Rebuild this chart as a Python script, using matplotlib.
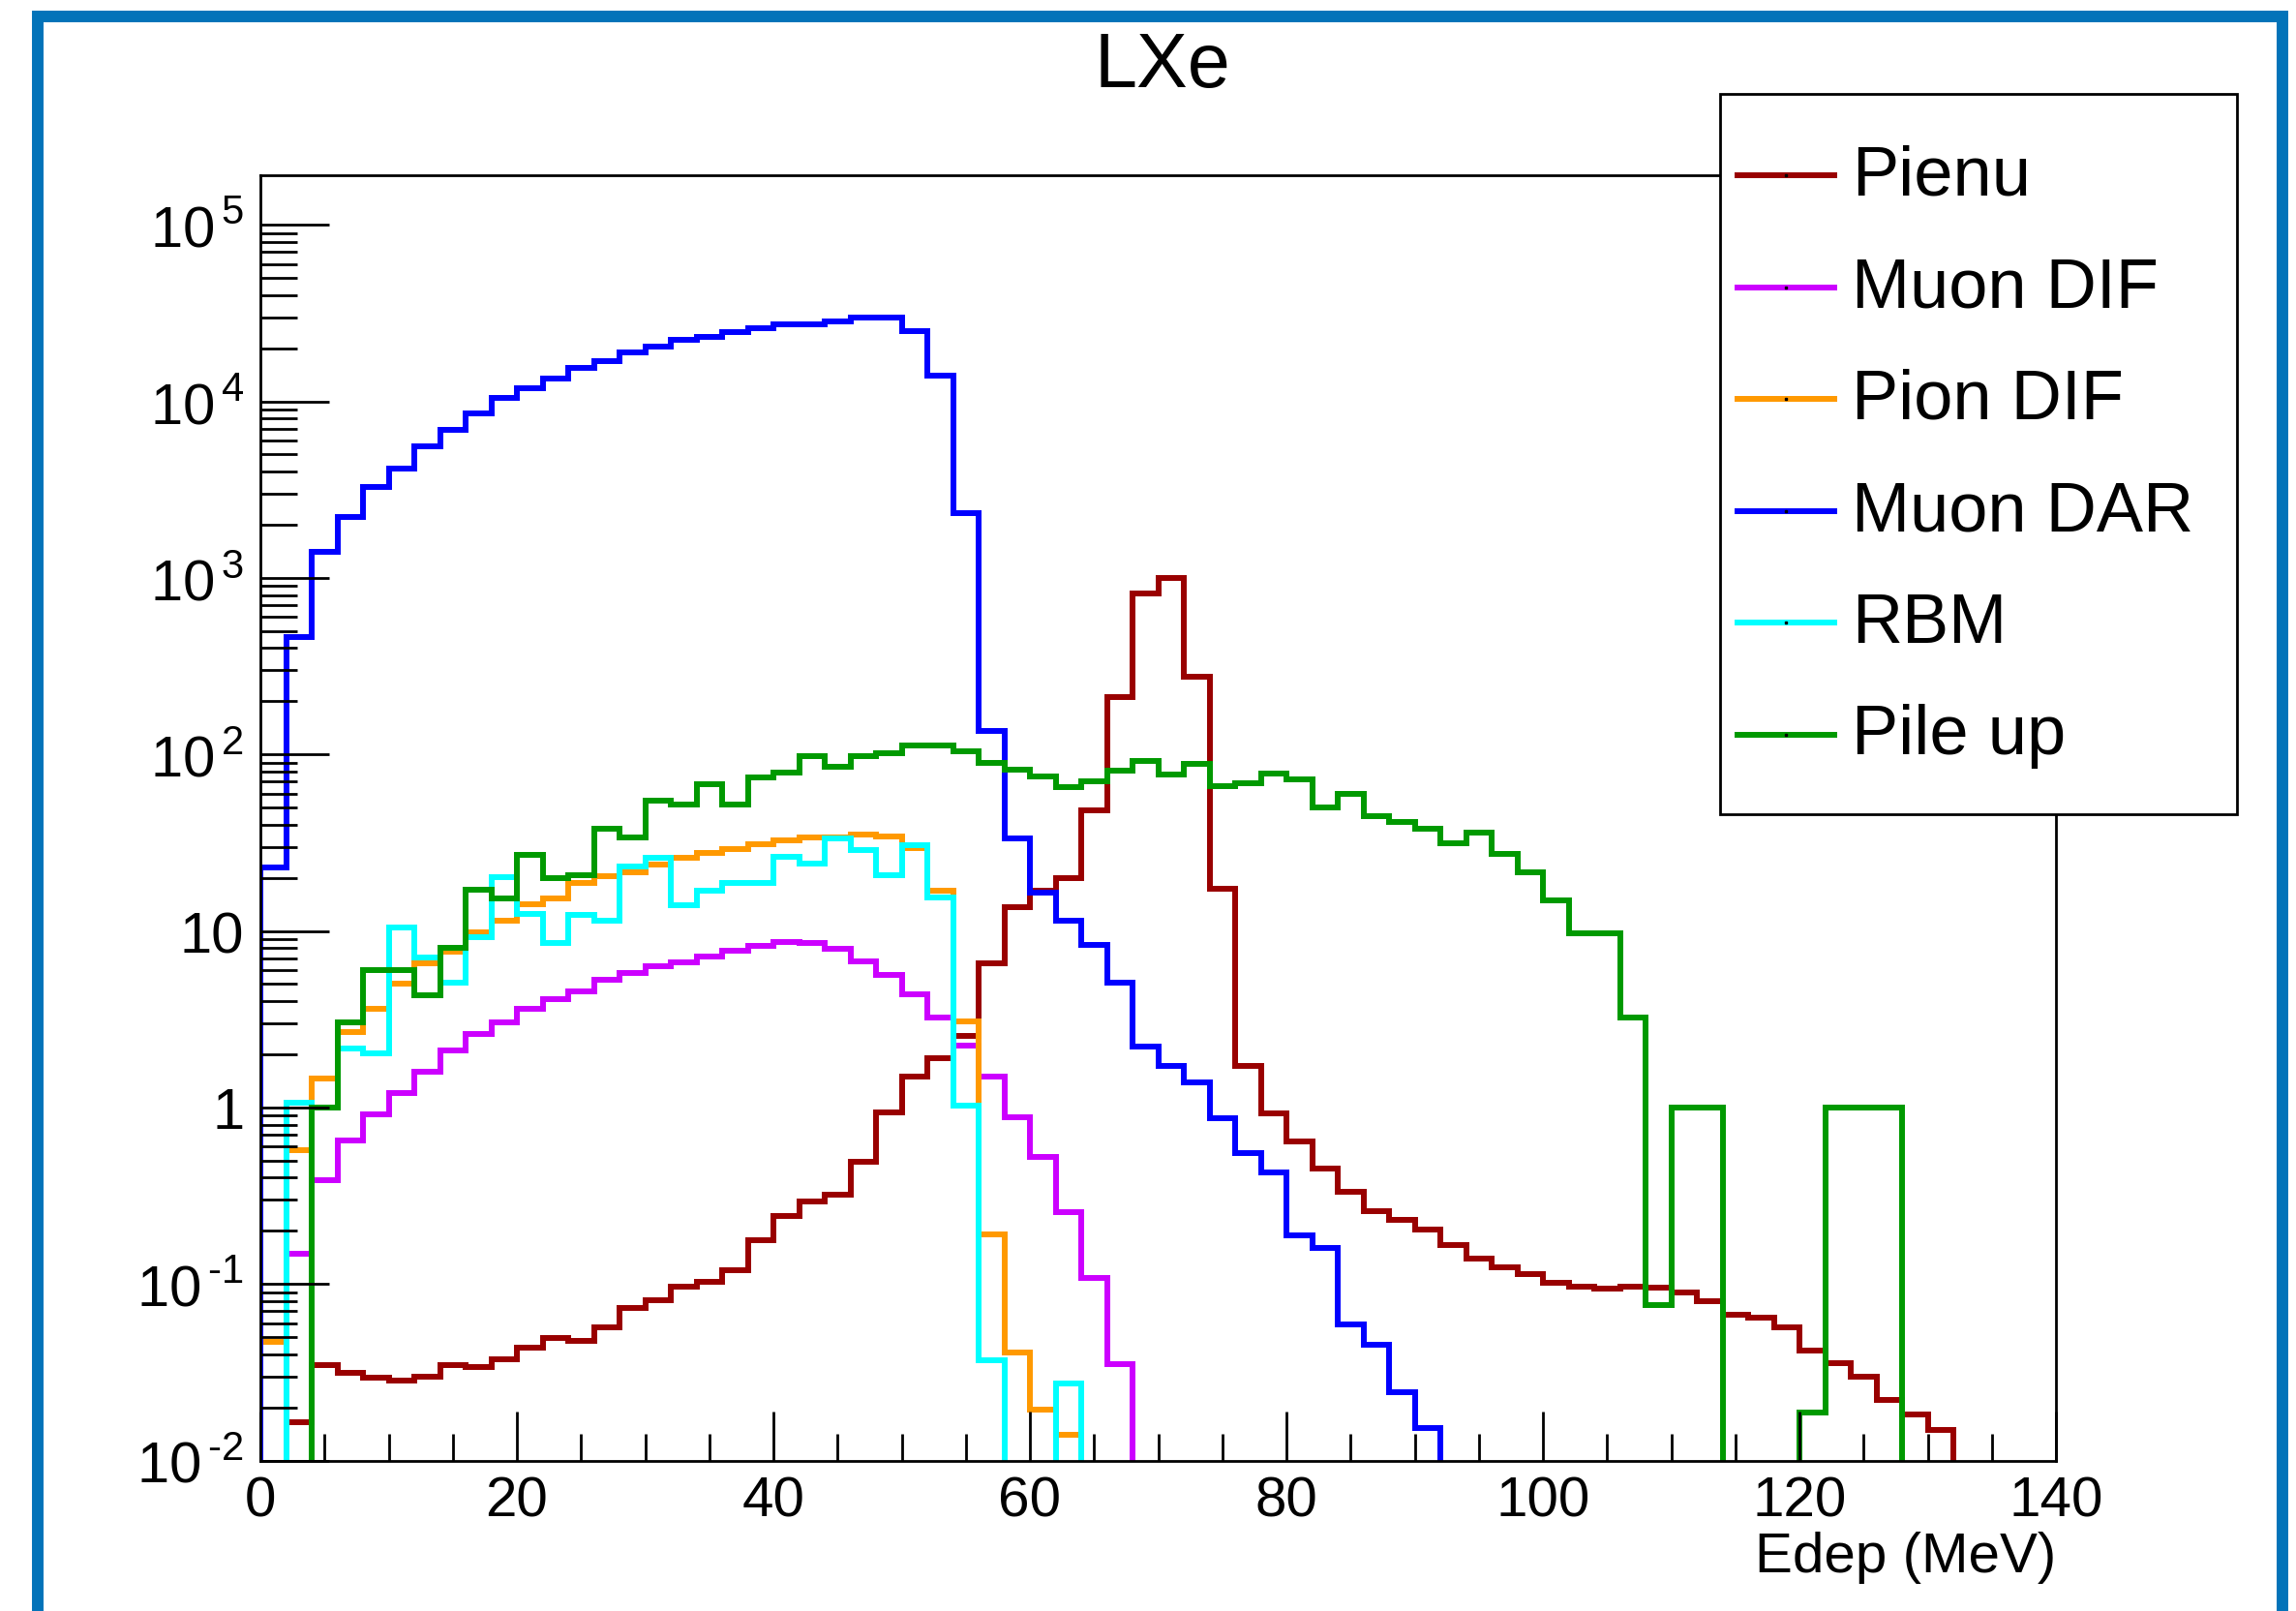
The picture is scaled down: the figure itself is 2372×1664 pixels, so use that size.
import numpy as np
import matplotlib.pyplot as plt
from matplotlib.lines import Line2D
from matplotlib.patches import Rectangle
from matplotlib.ticker import LogLocator, MultipleLocator, NullFormatter

plt.rcParams['font.family'] = ['Liberation Sans', 'DejaVu Sans']
plt.rcParams['mathtext.fontset'] = 'custom'
plt.rcParams['mathtext.rm'] = 'Liberation Sans'

# ---------------------------------------------
# Energy deposited in LXe, 2 MeV bins from 0 to 140 MeV
# ---------------------------------------------
bin_edges = np.arange(0, 142, 2)

pienu = [0, 0.0165, 0.0349, 0.0314, 0.0296, 0.0285, 0.0298, 0.0349, 0.034, 0.0373,
         0.0438, 0.0495, 0.0474, 0.0571, 0.0729, 0.0811, 0.0965, 0.103, 0.120, 0.178,
         0.243, 0.292, 0.320, 0.493, 0.94, 1.49, 1.91, 2.55, 6.54, 13.7,
         17.0, 20.0, 48.0, 211, 815, 995, 276, 17.3, 1.72, 0.92,
         0.638, 0.453, 0.332, 0.260, 0.231, 0.204, 0.166, 0.140, 0.124, 0.114,
         0.1016, 0.097, 0.0935, 0.097, 0.095, 0.089, 0.080, 0.0673, 0.0643, 0.0565,
         0.0421, 0.0357, 0.0298, 0.0219, 0.0182, 0.0148, 0, 0, 0, 0]

muon_dif = [0, 0.148, 0.385, 0.65, 0.91, 1.20, 1.59, 2.10, 2.60, 3.03,
            3.64, 4.12, 4.52, 5.27, 5.78, 6.34, 6.6, 7.18, 7.73, 8.22,
            8.63, 8.52, 7.88, 6.75, 5.61, 4.39, 3.22, 2.23, 1.49, 0.885,
            0.524, 0.255, 0.108, 0.035, 0, 0, 0, 0, 0, 0,
            0, 0, 0, 0, 0, 0, 0, 0, 0, 0,
            0, 0, 0, 0, 0, 0, 0, 0, 0, 0,
            0, 0, 0, 0, 0, 0, 0, 0, 0, 0]

pion_dif = [0.047, 0.574, 1.45, 2.68, 3.64, 5.02, 6.54, 7.63, 9.76, 11.4,
            14.1, 15.2, 18.6, 20.4, 21.5, 23.8, 26.0, 27.8, 29.2, 31.1,
            32.4, 33.8, 33.8, 35.1, 34.4, 29.6, 17.0, 3.07, 0.19, 0.041,
            0.0195, 0.014, 0, 0, 0, 0, 0, 0, 0, 0,
            0, 0, 0, 0, 0, 0, 0, 0, 0, 0,
            0, 0, 0, 0, 0, 0, 0, 0, 0, 0,
            0, 0, 0, 0, 0, 0, 0, 0, 0, 0]

muon_dar = [23, 461, 1400, 2220, 3270, 4160, 5560, 6910, 8590, 10500,
            11900, 13500, 15400, 16900, 18900, 20500, 22200, 23100, 24800, 26100,
            27300, 27300, 28300, 29700, 29700, 25100, 14000, 2320, 136, 33.4,
            16.5, 11.4, 8.3, 5.1, 2.2, 1.72, 1.38, 0.87, 0.55, 0.43,
            0.188, 0.16, 0.059, 0.045, 0.0245, 0.0152, 0, 0, 0, 0,
            0, 0, 0, 0, 0, 0, 0, 0, 0, 0,
            0, 0, 0, 0, 0, 0, 0, 0, 0, 0]

rbm = [0, 1.06, 1.0, 2.16, 2.03, 10.4, 7.08, 5.11, 9.18, 20.2,
       12.5, 8.52, 12.3, 11.4, 23.1, 26.1, 13.9, 17.0, 18.6, 18.6,
       26.4, 24.2, 33.4, 28.7, 20.7, 30.5, 15.5, 1.03, 0.037, 0,
       0, 0.0273, 0, 0, 0, 0, 0, 0, 0, 0,
       0, 0, 0, 0, 0, 0, 0, 0, 0, 0,
       0, 0, 0, 0, 0, 0, 0, 0, 0, 0,
       0, 0, 0, 0, 0, 0, 0, 0, 0, 0]

pile_up = [0, 0, 1.0, 3.03, 6.0, 6.0, 4.33, 8.0, 17.2, 15.2,
           26.9, 19.8, 20.7, 37.8, 33.8, 54.7, 52, 67.9, 52.1, 74.4,
           79.2, 98.2, 85.2, 98, 101, 113, 113, 104, 89.5, 81.6,
           75.3, 65, 70, 81.3, 91.5, 76.8, 88.3, 66.4, 69, 78,
           72, 49.9, 60.1, 44.9, 41.4, 38.0, 31.3, 36.2, 27.4, 21.5,
           14.8, 9.64, 9.64, 3.24, 0.0757, 1, 1, 0, 0, 0,
           0.0186, 1, 1, 1, 0, 0, 0, 0, 0, 0]

labels = ["Pienu", "Muon DIF", "Pion DIF", "Muon DAR", "RBM", "Pile up"]
colors = ["#990000", "#cc00ff", "#ff9900", "#0000ff", "#00ffff", "#009900"]
hists = [pienu, muon_dif, pion_dif, muon_dar, rbm, pile_up]

y_ticks = [1e-2, 1e-1, 1, 10, 1e2, 1e3, 1e4, 1e5]
y_tick_labels = [r'$10^{\,\text{-2}}$', r'$10^{\,\text{-1}}$', '1', '10',
                 r'$10^{\,2}$', r'$10^{\,3}$', r'$10^{\,4}$', r'$10^{\,5}$']

W, H = 2372, 1665


def fx(px):
    return px / W


def fy(py):
    return 1 - py / H


fig = plt.figure(figsize=(W / 100, H / 100), dpi=100, facecolor='white')
ax = fig.add_axes([fx(269), fy(1509.5), fx(2124 - 269), (1509.5 - 182) / H])

# empty bins drop below the visible range, like the log-scale histogram outline
floor = 1e-3
for counts, color in zip(hists, colors):
    c = np.asarray(counts, dtype=float)
    c = np.where(c > 0, c, floor)
    ax.stairs(c, bin_edges, baseline=floor, color=color, lw=4.3)

ax.set_xlim(0, 140)
ax.set_yscale('log')
ax.set_ylim(1e-2, 1.91e5)

ax.xaxis.set_major_locator(MultipleLocator(20))
ax.xaxis.set_minor_locator(MultipleLocator(5))
ax.set_yticks(y_ticks, labels=y_tick_labels)
ax.yaxis.set_minor_locator(LogLocator(base=10, subs=np.arange(2, 10), numticks=30))
ax.yaxis.set_minor_formatter(NullFormatter())

ax.tick_params(axis='x', which='major', direction='in', length=37, width=2,
               top=False, labelsize=42, pad=11)
ax.tick_params(axis='x', which='minor', direction='in', length=20, width=2, top=False)
ax.tick_params(axis='y', which='major', direction='in', length=51, width=2,
               right=False, labelsize=43, pad=12)
ax.tick_params(axis='y', which='minor', direction='in', length=27, width=2, right=False)
for sp in ax.spines.values():
    sp.set_linewidth(2)

ax.set_xlabel('Edep (MeV)', loc='right', fontsize=42, labelpad=2)

fig.text(fx(1201), fy(90), 'LXe', ha='center', va='baseline', fontsize=57)

# legend box drawn over the frame corner
fig.add_artist(Rectangle((fx(1777), fy(842)), fx(2311 - 1777), (842 - 98) / H,
                         transform=fig.transFigure, facecolor='white',
                         edgecolor='black', lw=2, zorder=5))
for k, (lab, color) in enumerate(zip(labels, colors)):
    row = 182 + 115.6 * k
    fig.add_artist(Line2D([fx(1795), fx(1845), fx(1895)], [fy(row)] * 3,
                          transform=fig.transFigure, color=color, lw=4.3,
                          marker='s', markersize=1.5, markevery=[1],
                          markerfacecolor='black', markeredgecolor='black', zorder=6))
    fig.text(fx(1913), fy(row + 19.5), lab, ha='left', va='baseline',
             fontsize=52, zorder=6)

# blue slide frame around the canvas
fig.add_artist(Rectangle((fx(39), -0.05), fx(2358 - 39), fy(18) + 0.05,
                         transform=fig.transFigure, fill=False,
                         edgecolor='#0373b9', lw=8.6, zorder=7))

fig.savefig('out.png', dpi=100)
